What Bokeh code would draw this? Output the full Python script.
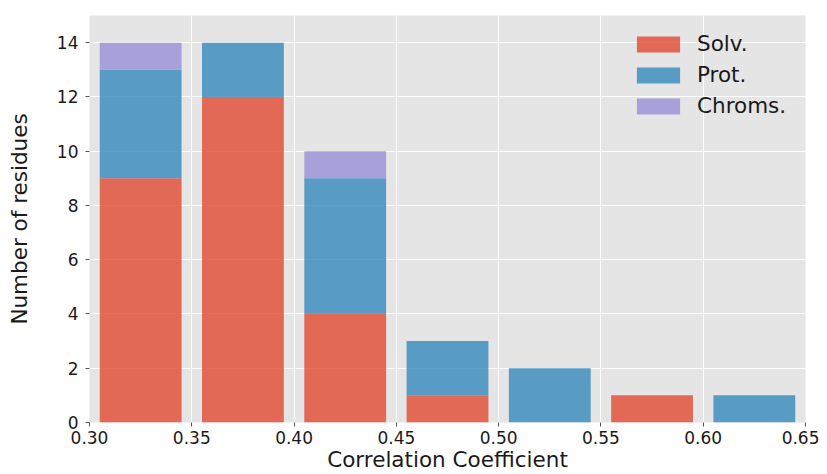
from bokeh.plotting import figure
from bokeh.models import Range1d, FixedTicker, Legend, LegendItem, ColumnDataSource, NumeralTickFormatter
from bokeh.embed import file_html
from bokeh.resources import INLINE

# Data
bin_left = [0.30, 0.35, 0.40, 0.45, 0.50, 0.55, 0.60]
solv = [9, 12, 4, 1, 0, 1, 0]
prot = [4, 2, 5, 2, 2, 0, 1]
chroms = [1, 0, 1, 0, 0, 0, 0]
series = ["Solv.", "Prot.", "Chroms."]
colors = ["#E24A33", "#348ABD", "#988ED5"]
x_ticks = [0.30, 0.35, 0.40, 0.45, 0.50, 0.55, 0.60, 0.65]
y_ticks = [0, 2, 4, 6, 8, 10, 12, 14]

bin_w = 0.05
centers = [b + bin_w / 2 for b in bin_left]
src = ColumnDataSource(dict(x=centers, **{"Solv.": solv, "Prot.": prot, "Chroms.": chroms}))

p = figure(width=819, height=474, output_backend="svg", toolbar_location=None,
           x_range=Range1d(0.30, 0.65), y_range=Range1d(0, 15),
           min_border_left=89, min_border_right=14, min_border_top=15, min_border_bottom=51)

p.background_fill_color = "#E5E5E5"
p.border_fill_color = "white"
p.outline_line_color = None

renderers = p.vbar_stack(series, x="x", width=0.04, source=src, color=colors,
                         fill_alpha=0.8, line_color=None)

p.xaxis.ticker = FixedTicker(ticks=x_ticks)
p.yaxis.ticker = FixedTicker(ticks=y_ticks)
p.xaxis.formatter = NumeralTickFormatter(format="0.00")

for ax in (p.xaxis[0], p.yaxis[0]):
    ax.axis_line_color = None
    ax.major_tick_line_color = "#555555"
    ax.major_tick_in = 0
    ax.major_tick_out = 4
    ax.minor_tick_line_color = None
    ax.major_label_text_font = "DejaVu Sans"
    ax.major_label_text_font_size = "17px"
    ax.major_label_text_color = "#1a1a1a"
    ax.axis_label_text_font = "DejaVu Sans"
    ax.axis_label_text_font_size = "21.5px"
    ax.axis_label_text_font_style = "normal"
    ax.axis_label_text_color = "#1a1a1a"

p.xaxis.axis_label = "Correlation Coefficient"
p.yaxis.axis_label = "Number of residues"
p.xaxis.axis_label_standoff = 0
p.yaxis.axis_label_standoff = 22
p.xaxis.major_label_standoff = 4
p.yaxis.major_label_standoff = 7

p.grid.grid_line_color = "white"
p.grid.grid_line_width = 1

legend = Legend(items=[LegendItem(label=s, renderers=[r]) for s, r in zip(series, renderers)],
                location=(542, 304))
legend.border_line_color = None
legend.background_fill_alpha = 0
legend.label_text_font = "DejaVu Sans"
legend.label_text_font_size = "21.5px"
legend.label_text_color = "#1a1a1a"
legend.glyph_width = 54
legend.glyph_height = 20
legend.label_height = 20
legend.spacing = 6
legend.label_standoff = 12
legend.padding = 5
legend.margin = 0
p.add_layout(legend)

open("out.html", "w").write(file_html(p, INLINE))
